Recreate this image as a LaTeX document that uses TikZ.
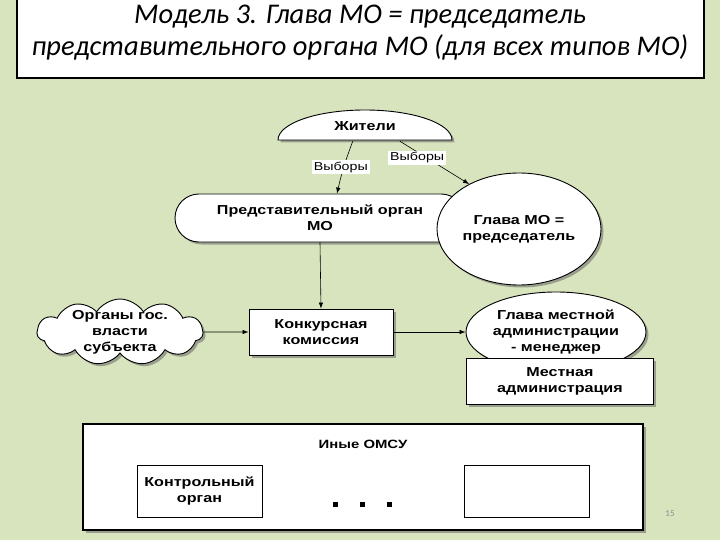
\documentclass[tikz,border=0pt]{standalone}
\usepackage{fontspec}
\setmainfont{Carlito}
\newfontfamily\diag[FakeStretch=1.24]{Liberation Sans}
\usetikzlibrary{arrows.meta,positioning,shapes,shadows,calc}
\definecolor{bgcol}{RGB}{216,228,190}
\tikzset{
  shd/.style={drop shadow={shadow xshift=2.5pt,shadow yshift=-2.5pt,fill=black!60,opacity=.55}},
  box/.style={draw, fill=white, line width=.9pt, shd, inner sep=0pt},
  txt/.style={font=\diag\bfseries\fontsize{13}{16}\selectfont, align=center, inner sep=0pt},
  lbl/.style={fill=white, font=\diag\fontsize{11.5}{13}\selectfont, inner sep=2pt},
  arr/.style={-{Latex[length=6pt,width=4.5pt]}, line width=.6pt},
}
\begin{document}
\begin{tikzpicture}[x=1pt, y=-1pt]
\useasboundingbox (0,0) rectangle (720,540);
\fill[bgcol] (0,0) rectangle (720,540);
\draw[line width=1.6pt, fill=white] (17,-3) rectangle (704,78);
\node[font=\itshape\fontsize{28.5}{32}\selectfont, align=center] (title) at (360,33) {Модель 3. Глава МО = председатель\\представительного органа МО (для всех типов МО)};

\draw[box] (278,140) arc[start angle=180, end angle=360, x radius=87, y radius=30] -- cycle;
\node[txt, minimum width=174pt, minimum height=30pt] (zhit) at (365,126) {Жители};

\node[box, txt, rectangle, rounded corners=24pt, minimum width=290pt, minimum height=48pt] (pred) at (320,218) {Представительный орган\\МО};
\node[box, txt, ellipse, minimum width=164pt, minimum height=112pt] (glmo) at (519,229) {Глава МО =\\председатель};

\draw[arr] ($(zhit.south west)!.43!(zhit.south east)$) to[bend right=4] node[lbl, pos=.5, xshift=-3pt] {Выборы} ($(pred.north)+(17,0)$);
\draw[arr] ($(zhit.south west)!.7!(zhit.south east)$) -- node[lbl, pos=.25, yshift=-6pt] {Выборы} (glmo.138);

\node[box, txt, minimum width=144pt, minimum height=46pt] (konk) at (321,332) {Конкурсная\\комиссия};
\node[box, cloud, cloud puffs=11, cloud puff arc=115, aspect=2.5, minimum width=166pt, minimum height=66pt] (organy) at (120,332) {};
\node[txt] (orgtxt) at (organy.center) {Органы гос.\\власти\\субъекта};
\node[box, txt, ellipse, minimum width=180pt, minimum height=80pt] (glmest) at (556,332) {Глава местной\\администрации\\- менеджер};
\node[box, txt, minimum width=187pt, minimum height=46pt] (mest) at (560,381) {Местная\\администрация};

\draw[arr] (pred.south) -- (konk.north);
\draw[arr] (organy.east) -- (konk.west);
\draw[arr] (konk.east) -- (glmest.west);

\node[box, line width=1.3pt, minimum width=560pt, minimum height=106pt] (omsu) at (363,477) {};
\node[txt, font=\diag\bfseries\fontsize{12}{14}\selectfont] (omsut) at (363,444) {Иные ОМСУ};
\node[txt, draw, line width=.7pt, minimum width=125pt, minimum height=52pt] (kontr) at (199.5,491) {Контрольный\\орган};
\node[draw, line width=.7pt, minimum width=125pt, minimum height=52pt] (empt) at (526.5,491) {};
\foreach \dx in {335,362,389} \fill (\dx-2,502) rectangle ++(4.5,4.5);
\node[font=\fontsize{9}{10}\selectfont, text=black!45] (pnum) at (670,514) {15};
\end{tikzpicture}
\end{document}
